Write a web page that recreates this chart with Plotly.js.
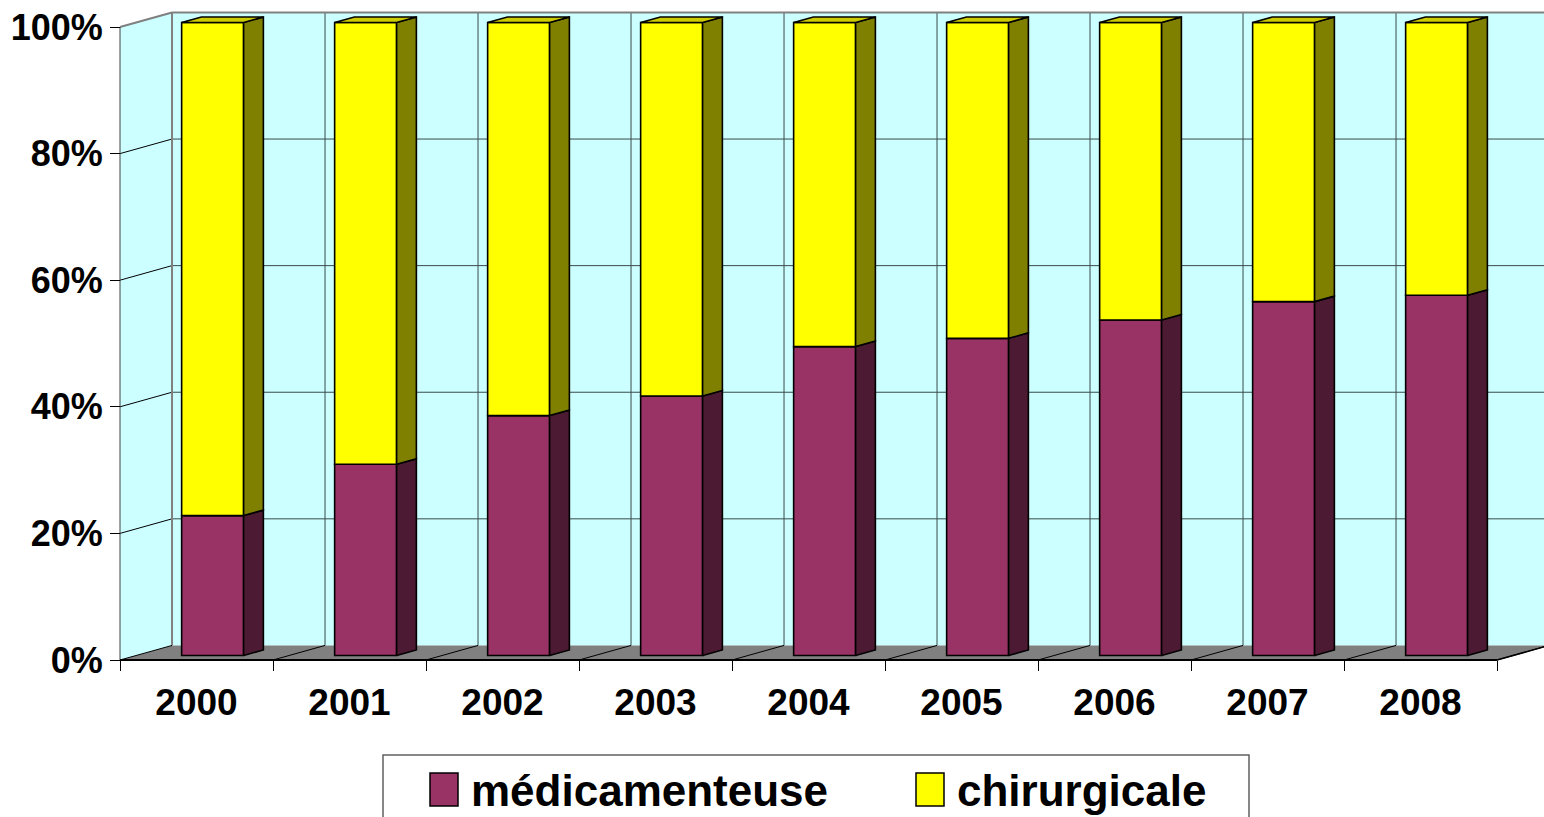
<!DOCTYPE html>
<html>
<head>
<meta charset="utf-8">
<script src="https://cdn.plot.ly/plotly-3.0.1.min.js"></script>
<style>
  html, body { margin: 0; padding: 0; background: #ffffff; }
  #chart { width: 1544px; height: 817px; }
</style>
</head>
<body>
<div id="chart"></div>
<script>
// ---------------- data ----------------
const years = ['2000', '2001', '2002', '2003', '2004', '2005', '2006', '2007', '2008'];
const medicamenteuse = [22.1, 30.2, 37.9, 41.0, 48.8, 50.1, 53.0, 55.9, 56.9];
const chirurgicale = [77.9, 69.8, 62.1, 59.0, 51.2, 49.9, 47.0, 44.1, 43.1];
const seriesNames = ['médicamenteuse', 'chirurgicale'];
const yTickVals = [0, 20, 40, 60, 80, 100];
const yTickText = ['0%', '20%', '40%', '60%', '80%', '100%'];

// ---------------- style / geometry ----------------
const COLORS = {
  medFront: '#993366', medSide: '#4D1A33',
  chiFront: '#FFFF00', chiSide: '#808000', chiTop: '#CCCC00',
  wall: '#CCFFFF', floor: '#808080', grid: '#3A4A4A', edge: '#808080'
};
const FONT = 'Liberation Sans, Arial, Helvetica, sans-serif';
const DX = 0.34;   // floor depth, category units
const DY = 2.3;    // floor depth, percent units
const T1 = 0.31, T2 = 0.69; // bar front/back depth fraction
const W = 0.405;   // bar width
const idx = years.map((_, i) => i);
const n = years.length;
const boundaries = Array.from({length: n + 1}, (_, k) => k - 0.5);
const VMAX = yTickVals[yTickVals.length - 1];

const medBase = idx.map(() => T1 * DY);
const chiBase = idx.map(i => T1 * DY + medicamenteuse[i]);
const barX = idx.map(i => i + T1 * DX);

function sideFaces(bases, vals) {
  const xs = [], ys = [];
  const ddx = (T2 - T1) * DX, ddy = (T2 - T1) * DY;
  idx.forEach(i => {
    const xr = i + W / 2 + T1 * DX;
    const b = bases[i], t = bases[i] + vals[i];
    xs.push(xr, xr + ddx, xr + ddx, xr, xr, null);
    ys.push(b, b + ddy, t + ddy, t, b, null);
  });
  return {xs, ys};
}
function topFaces(bases, vals) {
  const xs = [], ys = [];
  const ddx = (T2 - T1) * DX, ddy = (T2 - T1) * DY;
  idx.forEach(i => {
    const xl = i - W / 2 + T1 * DX, xr = i + W / 2 + T1 * DX;
    const t = bases[i] + vals[i];
    xs.push(xl, xr, xr + ddx, xl + ddx, xl, null);
    ys.push(t, t, t + ddy, t + ddy, t, null);
  });
  return {xs, ys};
}

const medSide = sideFaces(medBase, medicamenteuse);
const chiSide = sideFaces(chiBase, chirurgicale);
const chiTop = topFaces(chiBase, chirurgicale);

const outline = {color: '#000000', width: 1.6};
const traces = [
  {type: 'bar', name: seriesNames[0], x: barX, y: medicamenteuse, base: medBase, width: W,
   marker: {color: COLORS.medFront, line: outline}, hoverinfo: 'skip', showlegend: false},
  {type: 'bar', name: seriesNames[1], x: barX, y: chirurgicale, base: chiBase, width: W,
   marker: {color: COLORS.chiFront, line: outline}, hoverinfo: 'skip', showlegend: false},
  {type: 'scatter', mode: 'lines', x: medSide.xs, y: medSide.ys, fill: 'toself', connectgaps: false,
   fillcolor: COLORS.medSide, line: outline, hoverinfo: 'skip', showlegend: false},
  {type: 'scatter', mode: 'lines', x: chiSide.xs, y: chiSide.ys, fill: 'toself', connectgaps: false,
   fillcolor: COLORS.chiSide, line: outline, hoverinfo: 'skip', showlegend: false},
  {type: 'scatter', mode: 'lines', x: chiTop.xs, y: chiTop.ys, fill: 'toself', connectgaps: false,
   fillcolor: COLORS.chiTop, line: outline, hoverinfo: 'skip', showlegend: false}
];

// ---------------- walls, floor, grid ----------------
const L = boundaries[0], R = boundaries[n];
const shapes = [];
const line = (x0, y0, x1, y1, color, width) => ({type: 'line', xref: 'x', yref: 'y', layer: 'below',
  x0, y0, x1, y1, line: {color, width}});
shapes.push({type: 'rect', xref: 'x', yref: 'y', layer: 'below', x0: L + DX, x1: R + DX, y0: DY, y1: VMAX + DY,
  fillcolor: COLORS.wall, line: {width: 0}});
shapes.push({type: 'path', xref: 'x', yref: 'y', layer: 'below',
  path: `M ${L},0 L ${L},${VMAX} L ${L + DX},${VMAX + DY} L ${L + DX},${DY} Z`,
  fillcolor: COLORS.wall, line: {width: 0}});
shapes.push({type: 'path', xref: 'x', yref: 'y', layer: 'below',
  path: `M ${L},0 L ${R},0 L ${R + DX},${DY} L ${L + DX},${DY} Z`,
  fillcolor: COLORS.floor, line: {width: 0}});
yTickVals.slice(1, -1).forEach(v => {
  shapes.push(line(L + DX, v + DY, R + DX, v + DY, COLORS.grid, 1));
  shapes.push(line(L, v, L + DX, v + DY, '#000000', 1));
});
boundaries.slice(1).forEach(b => shapes.push(line(b + DX, DY, b + DX, VMAX + DY, COLORS.grid, 1)));
shapes.push(line(L + DX, VMAX + DY, R + DX, VMAX + DY, COLORS.edge, 2));
shapes.push(line(L + DX, DY, L + DX, VMAX + DY, COLORS.edge, 2));
shapes.push(line(L, VMAX, L + DX, VMAX + DY, COLORS.edge, 2));
shapes.push(line(L, 0, L, VMAX, '#404040', 1));
boundaries.forEach(b => shapes.push(line(b, 0, b + DX, DY, '#000000', 1)));
shapes.push(line(L, 0, R, 0, '#000000', 2));
shapes.push(line(R, 0, R + DX, DY, '#000000', 1.5));

// ---------------- legend (drawn box) ----------------
const W_PX = 1544, H_PX = 817;
const px = x => x / W_PX, py = y => 1 - y / H_PX;
shapes.push({type: 'rect', xref: 'paper', yref: 'paper', x0: px(383), x1: px(1249), y0: py(830), y1: py(755),
  fillcolor: 'rgba(0,0,0,0)', line: {color: '#606060', width: 1.5}});
shapes.push({type: 'rect', xref: 'paper', yref: 'paper', x0: px(430), x1: px(458), y0: py(806), y1: py(773),
  fillcolor: COLORS.medFront, line: {color: '#000', width: 1.5}});
shapes.push({type: 'rect', xref: 'paper', yref: 'paper', x0: px(916), x1: px(944), y0: py(806), y1: py(773),
  fillcolor: COLORS.chiFront, line: {color: '#000', width: 1.5}});
const legendFont = {family: FONT, size: 44, color: '#000', weight: 'bold'};
const annotations = [
  {xref: 'paper', yref: 'paper', x: px(469), y: py(790), xanchor: 'left', yanchor: 'middle',
   text: seriesNames[0], showarrow: false, font: legendFont},
  {xref: 'paper', yref: 'paper', x: px(955), y: py(790), xanchor: 'left', yanchor: 'middle',
   text: seriesNames[1], showarrow: false, font: legendFont}
];

// ---------------- layout ----------------
const SCALE = 6.33; // px per percent
const layout = {
  width: W_PX, height: H_PX,
  margin: {l: 0, r: 0, t: 0, b: 0, pad: 0},
  paper_bgcolor: '#ffffff', plot_bgcolor: '#ffffff',
  barmode: 'overlay',
  showlegend: false,
  xaxis: {
    domain: [0, 1], anchor: 'free', position: (H_PX - 660) / H_PX,
    range: [-0.5 - 120 / 153, -0.5 + (W_PX - 120) / 153],
    tickmode: 'array', tickvals: idx, ticktext: years, ticks: '',
    minor: {tickmode: 'array', tickvals: boundaries, ticks: 'outside', ticklen: 10, tickcolor: '#000', tickwidth: 1, showgrid: false},
    showline: false, showgrid: false, zeroline: false, automargin: false, fixedrange: true,
    ticklabelstandoff: 17,
    tickfont: {family: FONT, size: 37, color: '#000', weight: 'bold'}
  },
  yaxis: {
    domain: [0, 1], anchor: 'free', position: 120 / W_PX,
    range: [-(H_PX - 660) / SCALE, 660 / SCALE],
    tickmode: 'array', tickvals: yTickVals, ticktext: yTickText,
    ticks: 'outside', ticklen: 10, tickcolor: '#000', tickwidth: 1,
    showline: false, showgrid: false, zeroline: false, automargin: false, fixedrange: true,
    ticklabelstandoff: 0,
    tickfont: {family: FONT, size: 36, color: '#000', weight: 'bold'}
  },
  shapes, annotations
};

Plotly.newPlot('chart', traces, layout, {displayModeBar: false, staticPlot: true});
</script>
</body>
</html>
